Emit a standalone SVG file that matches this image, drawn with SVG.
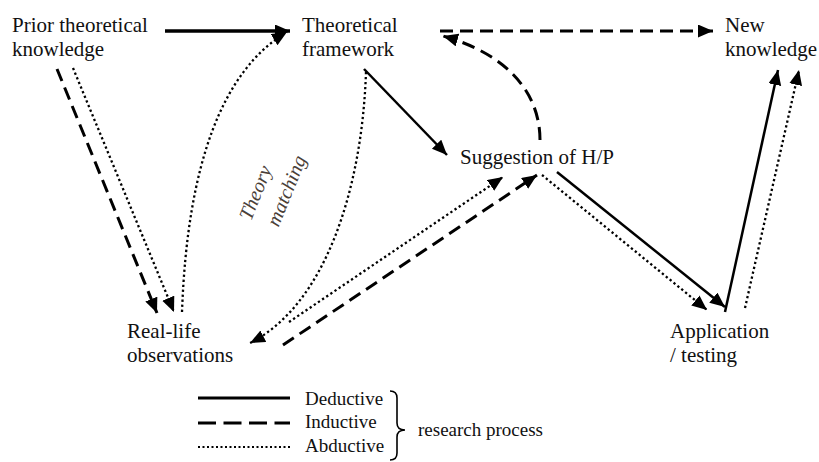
<svg xmlns="http://www.w3.org/2000/svg" width="819" height="462" viewBox="0 0 819 462">
<defs>
<style>
.t{font-size:21px;fill:#111}
.lg{font-size:19px;fill:#111}
.tm{font-size:20px;font-style:italic;fill:#4a4038}
.c{fill:none;stroke:#000}
.s{stroke-width:2.5}
.d{stroke-width:3;stroke-dasharray:13 7}
.o{stroke-width:2.3;stroke-dasharray:2.3 2.7}
</style>
<marker id="ah" markerUnits="userSpaceOnUse" markerWidth="16" markerHeight="14" refX="15" refY="6.5" orient="auto">
<path d="M0,0 L15,6.5 L0,13 z" fill="#000"/>
</marker>
</defs>
<rect width="819" height="462" fill="#fff"/>
<g id="connectors">
<path class="c s" style="stroke-width:3.5" d="M165,31 L290,31" marker-end="url(#ah)"/>
<path class="c d" d="M440,31 L713,31" marker-end="url(#ah)"/>
<path class="c d" d="M540,140 C540,95 510,55 443,36" marker-end="url(#ah)"/>
<path class="c s" d="M364,69 L447,155" marker-end="url(#ah)"/>
<path class="c d" d="M57,69 L157,313" marker-end="url(#ah)"/>
<path class="c o" d="M73,68 L174,312" marker-end="url(#ah)"/>
<path class="c o" d="M182,312 Q190,90 287,32" marker-end="url(#ah)"/>
<path class="c o" d="M366,72 C362,190 325,305 250,343" marker-end="url(#ah)"/>
<path class="c o" d="M289,322 L503,177" marker-end="url(#ah)"/>
<path class="c d" d="M283,345 L537,175" marker-end="url(#ah)"/>
<path class="c s" d="M557,172 L725,307" marker-end="url(#ah)"/>
<path class="c o" d="M542,175 L707,310" marker-end="url(#ah)"/>
<path class="c s" d="M725,312 L778,70" marker-end="url(#ah)"/>
<path class="c o" d="M745,308 L799,70" marker-end="url(#ah)"/>
</g>
<g id="prior"><text font-family="Liberation Serif" class="t" x="12" y="32">Prior theoretical</text><text font-family="Liberation Serif" class="t" x="12" y="56">knowledge</text></g>
<g id="theoretical"><text font-family="Liberation Serif" class="t" x="302" y="32">Theoretical</text><text font-family="Liberation Serif" class="t" x="302" y="56">framework</text></g>
<g id="newknowledge"><text font-family="Liberation Serif" class="t" x="725" y="32">New</text><text font-family="Liberation Serif" class="t" x="725" y="56">knowledge</text></g>
<g id="suggestion"><text font-family="Liberation Serif" class="t" x="460" y="164">Suggestion of H/P</text></g>
<g id="reallife"><text font-family="Liberation Serif" class="t" x="127" y="338">Real-life</text><text font-family="Liberation Serif" class="t" x="127" y="362">observations</text></g>
<g id="application"><text font-family="Liberation Serif" class="t" x="670" y="338">Application</text><text font-family="Liberation Serif" class="t" x="670" y="362">/ testing</text></g>
<g id="theorymatching">
<text font-family="Liberation Serif" class="tm" text-anchor="middle" transform="translate(256,193) rotate(-68)" y="6">Theory</text>
<text font-family="Liberation Serif" class="tm" text-anchor="middle" transform="translate(287,191) rotate(-68)" y="6">matching</text>
</g>
<g id="legend">
<line class="c" style="stroke-width:3" x1="198" y1="398" x2="290" y2="398"/>
<line class="c" style="stroke-width:3;stroke-dasharray:18 7.5" x1="198" y1="423" x2="290" y2="423"/>
<line class="c" style="stroke-width:2;stroke-dasharray:2 2.5" x1="198" y1="447" x2="290" y2="447"/>
<text font-family="Liberation Serif" class="lg" x="305" y="405">Deductive</text>
<text font-family="Liberation Serif" class="lg" x="305" y="428">Inductive</text>
<text font-family="Liberation Serif" class="lg" x="305" y="452">Abductive</text>
<path class="c" style="stroke-width:1.6" d="M390,391 Q397,391 397,398 L397,423 Q397,430 405,430 Q397,430 397,437 L397,453 Q397,460 390,460"/>
<text font-family="Liberation Serif" class="lg" x="418" y="436">research process</text>
</g>
</svg>
